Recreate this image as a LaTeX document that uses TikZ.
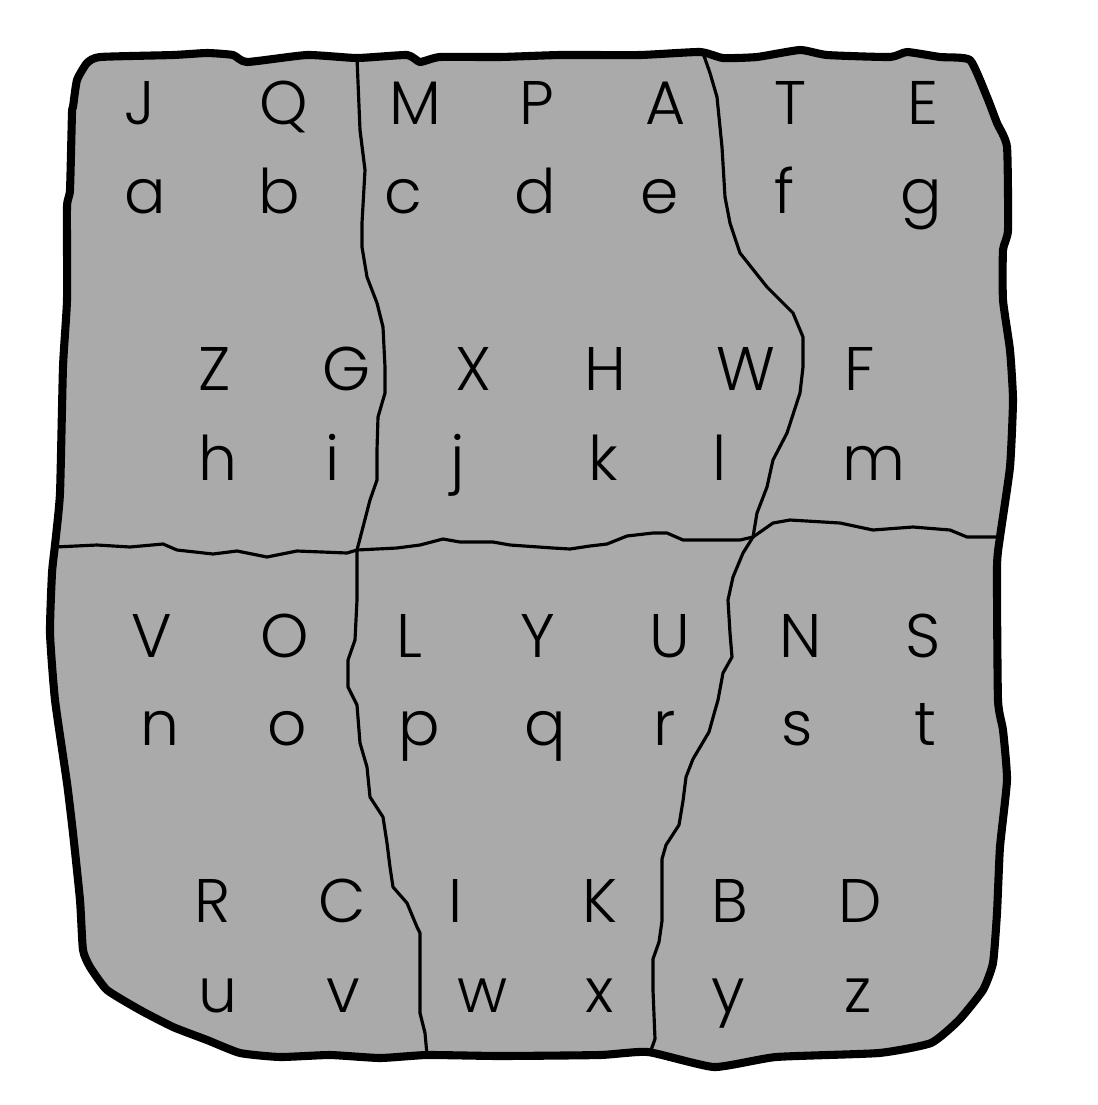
\documentclass[tikz,border=0pt]{standalone}
\usepackage{fontspec}
\setmainfont{Poppins}[UprightFont={* Light}]
\usetikzlibrary{positioning}
\definecolor{stonegray}{RGB}{170,170,170}

\begin{document}
\begin{tikzpicture}[x=0.01cm, y=-0.01cm,
  glyph/.style={anchor=base, inner sep=0pt, font=\fontsize{17.5}{20}\selectfont},
  tablet/.style={draw, line width=2.3pt, fill=stonegray, line join=round},
  crack/.style={line width=0.9pt, line join=round, line cap=round}]
  \useasboundingbox (0,0) rectangle (1098,1105);

  % stone outline
  \draw[tablet] plot[smooth cycle, tension=0.3] coordinates {
    (73,107) (77,80) (87,63) (100,57) (173,55) (207,53) (233,55) (247,62)
    (307,55) (357,58) (407,55) (420,62) (440,57) (500,57) (560,55) (640,55)
    (700,52) (723,58) (757,57) (800,50) (827,55) (890,57) (907,52) (940,57)
    (970,60) (987,97) (997,123) (1007,147) (1008,230) (1003,250) (1003,300)
    (1010,350) (1013,400) (1010,467) (1000,537) (997,567) (998,700) (1003,730)
    (1007,780) (1000,847) (997,913) (993,963) (983,990) (959,1020) (931,1043)
    (879,1053) (776,1057) (714,1067) (648,1052) (600,1055) (500,1056) (427,1055)
    (380,1058) (330,1055) (280,1057) (240,1053) (207,1040) (173,1027) (140,1010)
    (107,990) (90,967) (83,950) (80,900) (73,833) (67,783) (55,700) (50,633)
    (52,573) (55,545) (60,493) (63,367) (67,300) (67,207) (70,190) (72,113)};

  % cracks
  \draw[crack] (357,58) -- (360,130) -- (365,170) -- (362,223) -- (362,247) -- (367,277)
    -- (377,303) -- (383,327) -- (385,367) -- (385,393) -- (378,417) -- (377,450)
    -- (377,480) -- (370,500) -- (363,527) -- (357,550) -- (357,600) -- (355,640)
    -- (348,660) -- (348,687) -- (357,705) -- (360,743) -- (367,767) -- (370,797)
    -- (383,817) -- (387,843) -- (390,867) -- (393,887) -- (407,903) -- (417,927)
    -- (420,933) -- (420,1013) -- (425,1033) -- (427,1055);
  \draw[crack] (703,53) -- (710,73) -- (717,97) -- (722,147) -- (725,197) -- (730,223)
    -- (740,253) -- (767,287) -- (793,313) -- (803,337) -- (803,367) -- (800,393)
    -- (787,433) -- (773,460) -- (767,487) -- (757,513) -- (753,537) -- (743,553)
    -- (733,577) -- (728,600) -- (730,633) -- (732,657) -- (723,673) -- (718,700)
    -- (714,714) -- (709,732) -- (693,759) -- (686,777) -- (683,801) -- (679,825)
    -- (666,845) -- (662,859) -- (662,921) -- (659,942) -- (653,959) -- (653,990)
    -- (655,1039) -- (650,1053);
  \draw[crack] (55,547) -- (97,545) -- (130,547) -- (163,544) -- (177,550) -- (213,554)
    -- (237,551) -- (267,557) -- (297,551) -- (347,553) -- (357,550) -- (397,548)
    -- (420,545) -- (443,539) -- (460,542) -- (493,542) -- (510,545) -- (553,548)
    -- (570,549) -- (590,546) -- (607,544) -- (627,536) -- (653,533) -- (667,533)
    -- (683,540) -- (740,540) -- (753,537) -- (773,523) -- (790,520) -- (840,523)
    -- (873,530) -- (913,527) -- (950,530) -- (967,537) -- (1000,537);

  % letters, row by row
  \foreach \ch/\x in {J/140, Q/284, M/415, P/537, A/666, T/790, E/923}
    \node[glyph] (\ch) at (\x,124) {\ch};
  \foreach \ch/\x in {a/145, b/279, c/403, d/535, e/660, f/784, g/921}
    \node[glyph] (\ch) at (\x,213) {\ch};
  \foreach \ch/\x in {Z/215, G/347, X/473, H/605, W/746, F/860}
    \node[glyph] (\ch) at (\x,390) {\ch};
  \foreach \ch/\x in {h/218, i/333, j/458, k/603, l/720, m/874}
    \node[glyph] (\ch) at (\x,480) {\ch};
  \foreach \ch/\x in {V/152, O/285, L/409, Y/538, U/670, N/801, S/923}
    \node[glyph] (\ch) at (\x,657) {\ch};
  \foreach \ch/\x in {n/160, o/287, p/419, q/545, r/665, s/797, t/925}
    \node[glyph] (\ch) at (\x,745) {\ch};
  \foreach \ch/\x in {R/213, C/342, I/456, K/600, B/730, D/860}
    \node[glyph] (\ch) at (\x,922) {\ch};
  \foreach \ch/\x in {u/218, v/343, w/483, x/600, y/728, z/858}
    \node[glyph] (\ch) at (\x,1012) {\ch};
\end{tikzpicture}
\end{document}
